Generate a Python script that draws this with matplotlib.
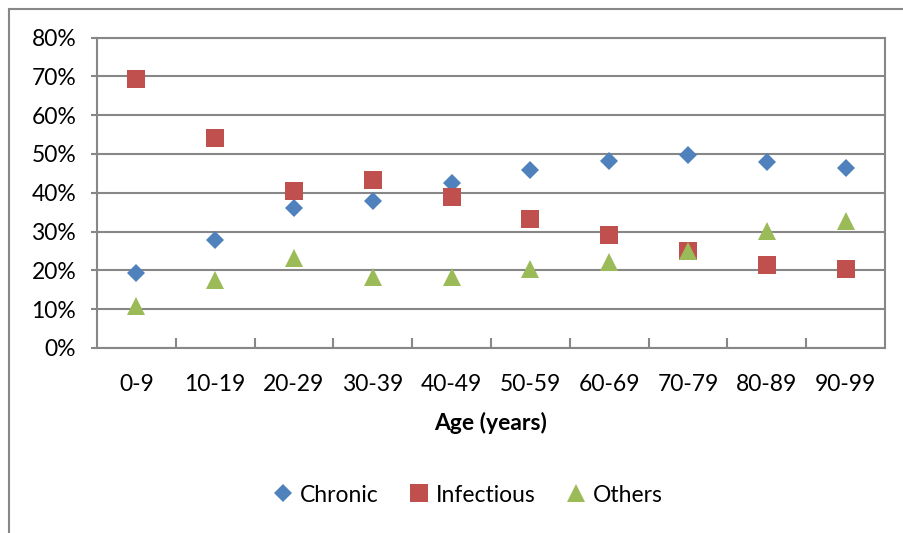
import matplotlib
matplotlib.use("Agg")
import matplotlib.pyplot as plt
from matplotlib.lines import Line2D

plt.rcParams['font.family'] = ['Lato', 'DejaVu Sans']

categories = ["0-9", "10-19", "20-29", "30-39", "40-49", "50-59", "60-69", "70-79", "80-89", "90-99"]
chronic = [19.2, 27.9, 36.1, 38.0, 42.5, 45.9, 48.2, 49.6, 48.0, 46.4]
infectious = [69.4, 54.0, 40.4, 43.3, 38.9, 33.2, 29.2, 25.0, 21.5, 20.4]
others = [10.9, 17.6, 23.1, 18.3, 18.2, 20.3, 22.1, 24.9, 30.1, 32.6]
yticks = [0, 10, 20, 30, 40, 50, 60, 70, 80]
ytick_labels = ["0%", "10%", "20%", "30%", "40%", "50%", "60%", "70%", "80%"]

W, H = 904, 533
fig = plt.figure(figsize=(W / 100, H / 100), dpi=100)
ax = fig.add_axes([97 / W, 1 - 348 / H, (885 - 97) / W, (348 - 37.5) / H])

grid_c = '#878787'
fs = 16.5
x = list(range(len(categories)))
ax.plot(x, chronic, linestyle='none', marker='D', markersize=9, color='#4F81BD',
        markeredgewidth=0, label='Chronic', zorder=3)
ax.plot(x, infectious, linestyle='none', marker='s', markersize=13.5, color='#C0504D',
        markeredgewidth=0, label='Infectious', zorder=3)
ax.plot(x, others, linestyle='none', marker='^', markersize=13, color='#9BBB59',
        markeredgewidth=0, label='Others', zorder=3)

ax.set_xlim(-0.5, len(categories) - 0.5)
ax.set_ylim(0, 80)
ax.set_yticks(yticks)
ax.set_yticklabels(ytick_labels, fontsize=fs)
ax.yaxis.grid(True, color=grid_c, linewidth=1.5)
ax.set_axisbelow(True)
ax.tick_params(axis='y', length=4, width=1.5, color=grid_c, pad=11)

ax.set_xticks([i + 0.5 for i in range(len(categories) - 1)])
ax.set_xticklabels([])
ax.set_xticks(x, minor=True)
ax.set_xticklabels(categories, minor=True, fontsize=fs)
ax.tick_params(axis='x', which='major', direction='in', length=7, width=1.5, color=grid_c)
ax.tick_params(axis='x', which='minor', length=0, pad=19)

for s in ax.spines.values():
    s.set_color(grid_c)
    s.set_linewidth(1.5)

ax.set_xlabel('Age (years)', fontsize=fs, fontweight='bold', labelpad=12)

leg = fig.legend(loc='center', bbox_to_anchor=(466 / W, 1 - 495 / H), ncol=3, frameon=False,
                 fontsize=fs, handletextpad=0.1, columnspacing=1.2, handlelength=1.2)

# outer chart border
fig.add_artist(Line2D([8.5 / W, 8.5 / W], [0, 1 - 8.5 / H], color=grid_c, linewidth=1.5,
                      transform=fig.transFigure))
fig.add_artist(Line2D([8.5 / W, 1], [1 - 8.5 / H, 1 - 8.5 / H], color=grid_c, linewidth=1.5,
                      transform=fig.transFigure))

fig.savefig('out.png', dpi=100, facecolor='white')
